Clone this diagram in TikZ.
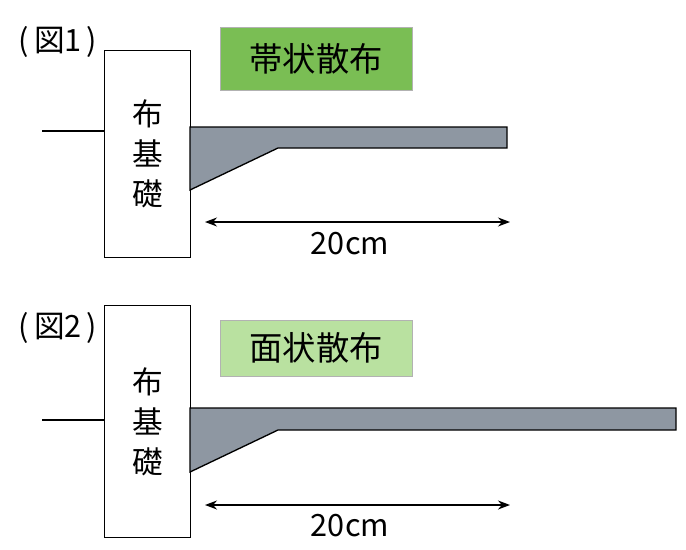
\documentclass[tikz,border=0pt]{standalone}
\usepackage{fontspec}
\setmainfont{Noto Sans CJK JP}
\usetikzlibrary{arrows.meta}
\definecolor{gr}{HTML}{8E97A2}
\tikzset{
 base/.style={draw,line width=1pt,fill=white},
 lab/.style={font=\fontsize{23}{30}\selectfont},
 dim/.style={{Stealth[length=9pt]}-{Stealth[length=9pt]},line width=1pt},
 slab/.style={draw,line width=1pt,fill=gr}
}
\begin{document}
\begin{tikzpicture}[x=0.75pt,y=-0.75pt]
\useasboundingbox (0,0) rectangle (686,550);
% fig 1
\node[lab,anchor=center] (t1) at (58,42) {(\,図1\,)};
\coordinate (l1) at (42,131);
\coordinate (b1) at (104,131);
\draw[line width=1pt] (l1) -- (b1);
\node[base,minimum width=64.5pt,minimum height=155pt,anchor=north west,align=center,lab] (f1) at (104,50) {布\\基\\礎};
\node[draw=gray!60,fill={rgb,255:red,122;green,190;blue,84},minimum width=144pt,minimum height=47pt,anchor=north west,font=\fontsize{25}{28}\selectfont] (g1) at (220,27) {帯状散布};
\draw[slab] (190,127) -- (507,127) -- (507,148) -- (278,148) -- (190,190) -- cycle;
\coordinate (a1) at (205,222); \coordinate (a2) at (510,222);
\draw[dim] (a1) -- (a2);
\node[lab] (d1) at (350,244) {20cm};
% fig 2
\node[lab,anchor=center] (t2) at (58,328) {(\,図2\,)};
\coordinate (l2) at (42,420);
\coordinate (b2) at (104,420);
\draw[line width=1pt] (l2) -- (b2);
\node[base,minimum width=64.5pt,minimum height=174pt,anchor=north west,align=center,lab] (f2) at (104,305) {布\\基\\礎};
\node[draw=gray!60,fill={rgb,255:red,185;green,225;blue,160},minimum width=144pt,minimum height=42pt,anchor=north west,font=\fontsize{25}{28}\selectfont] (g2) at (220,320) {面状散布};
\draw[slab] (190,408) -- (676,408) -- (676,430) -- (278,430) -- (190,472) -- cycle;
\coordinate (a3) at (205,505); \coordinate (a4) at (510,505);
\draw[dim] (a3) -- (a4);
\node[lab] (d2) at (350,526) {20cm};
\end{tikzpicture}
\end{document}
